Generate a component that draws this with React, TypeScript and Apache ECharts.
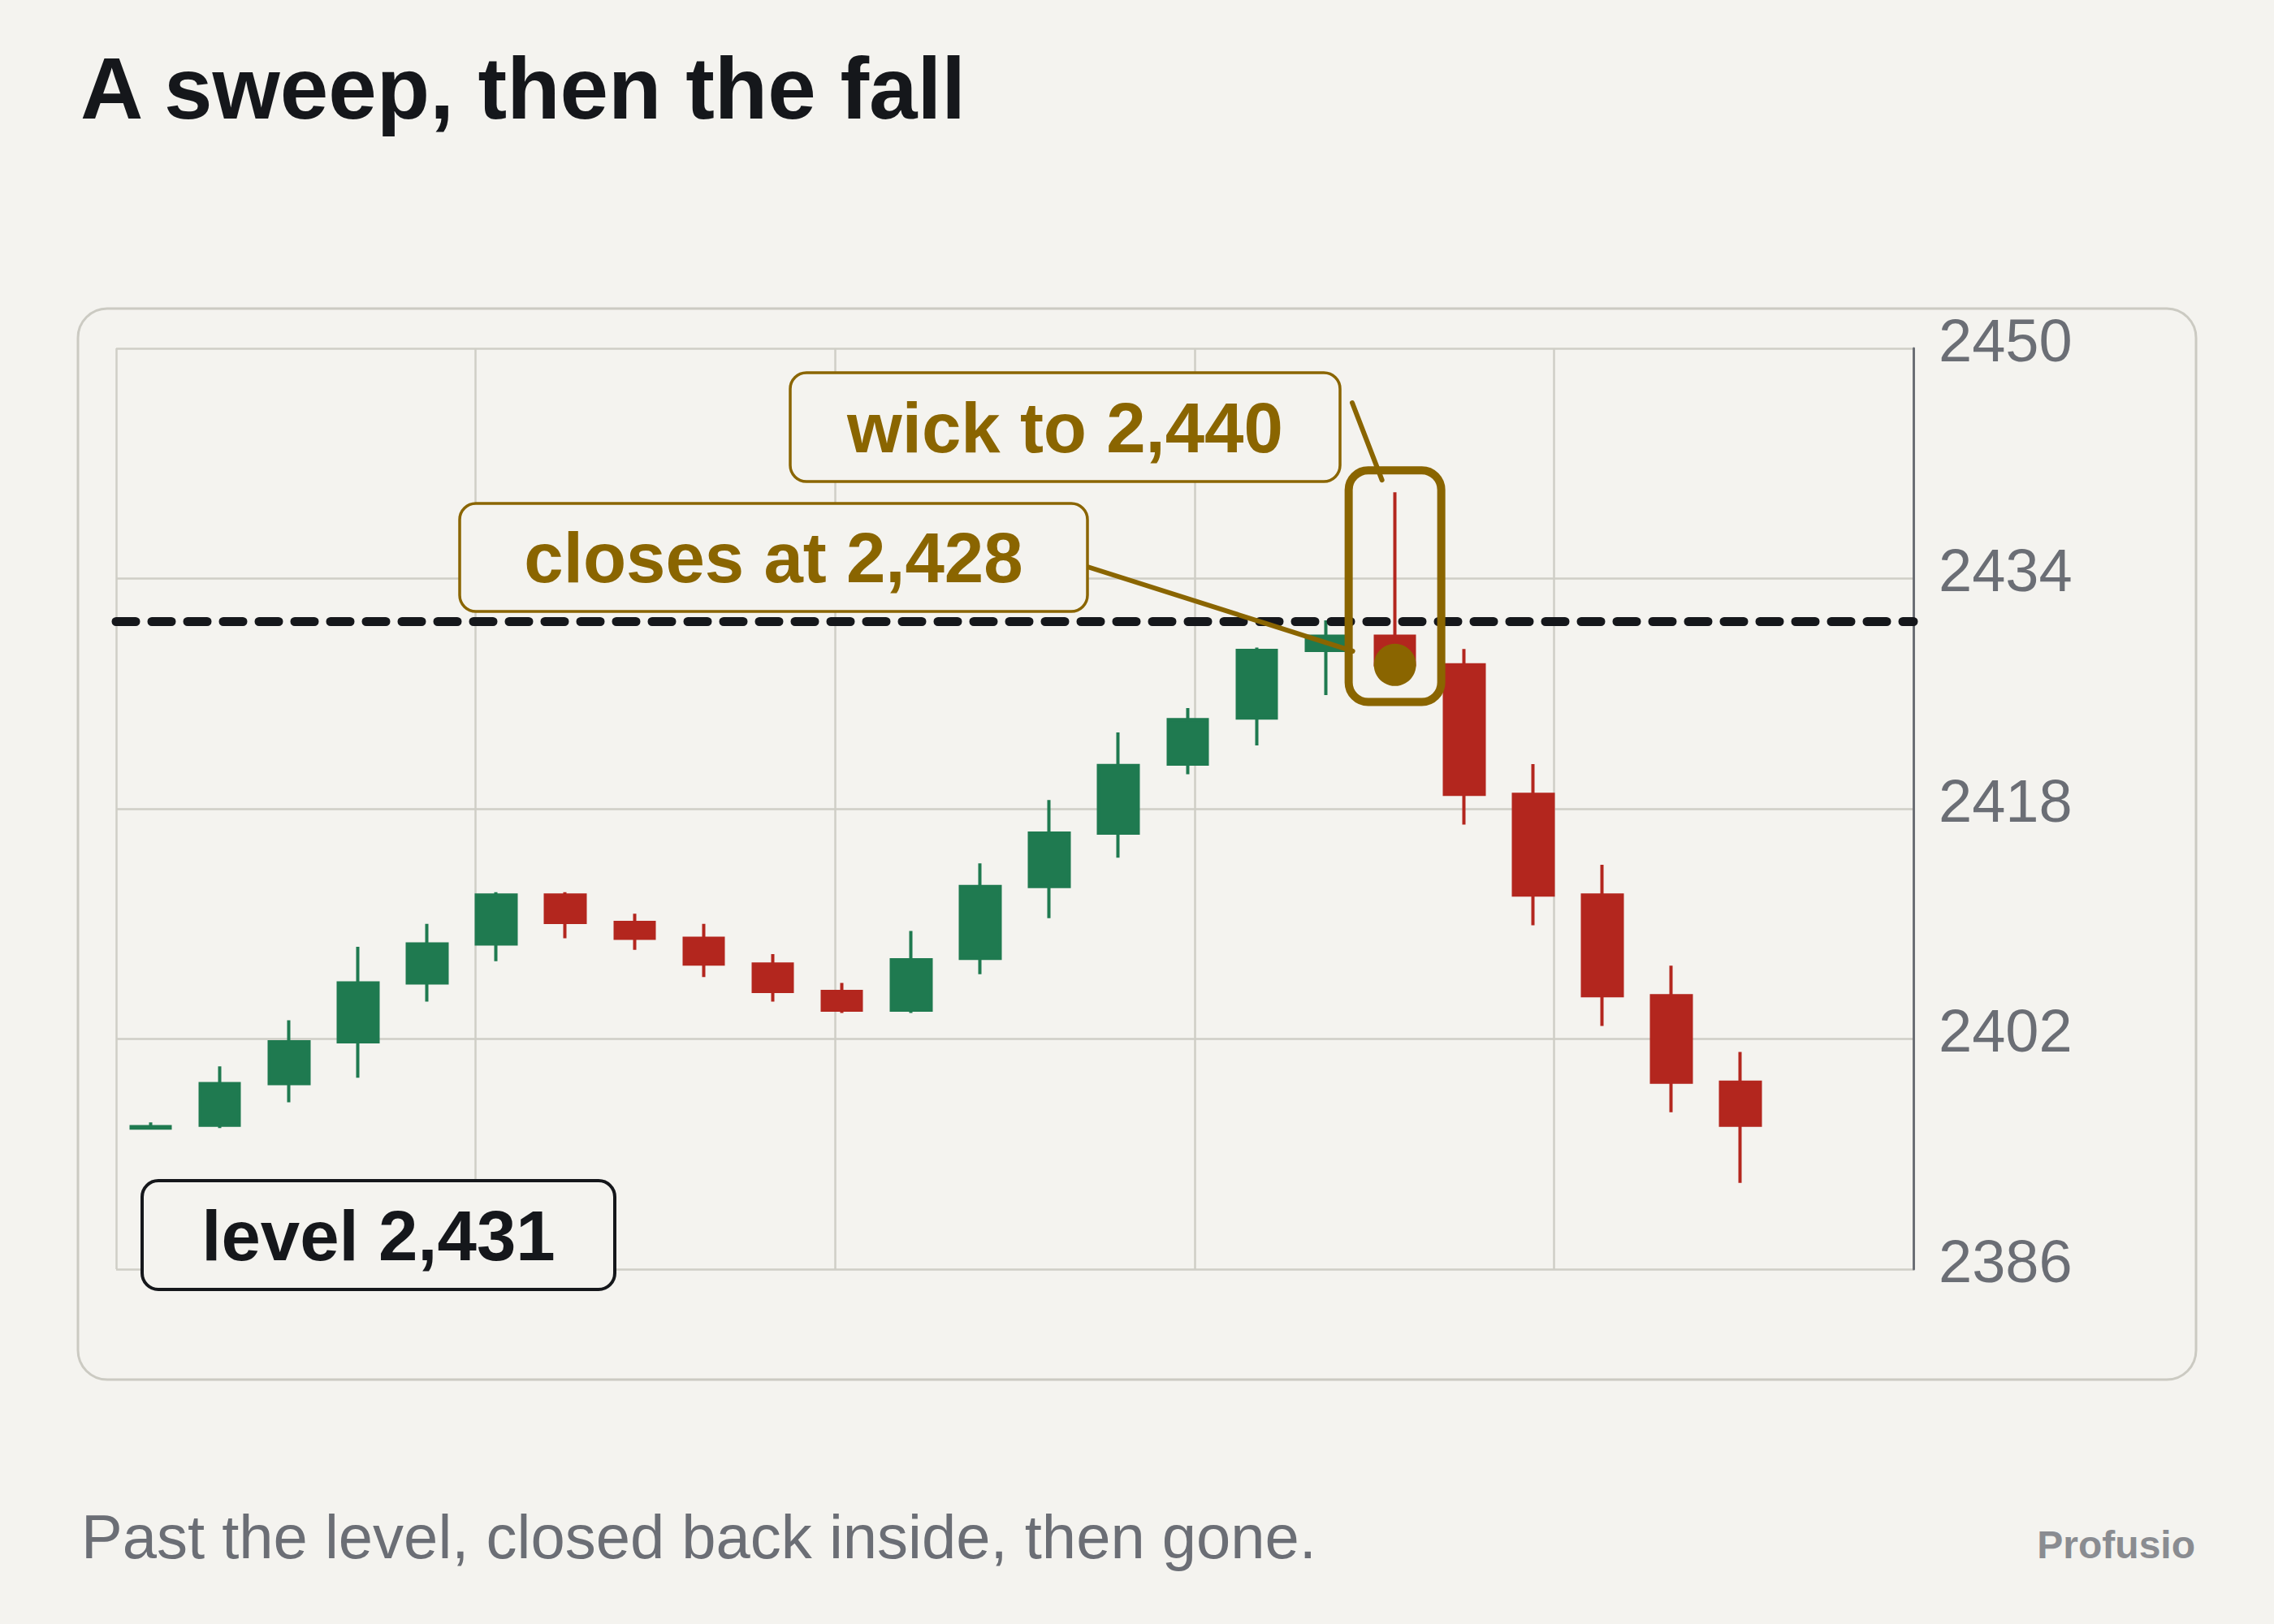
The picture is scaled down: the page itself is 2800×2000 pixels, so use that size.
import { useEffect, useRef } from "react";
import * as echarts from "echarts";

// ---- data ----
const categories = [
  "01", "02", "03", "04", "05", "06", "07", "08", "09", "10", "11", "12", "13",
  "14", "15", "16", "17", "18", "19", "20", "21", "22", "23", "24", "25", "26",
];
const opens = [
  2395.8, 2396.0, 2398.9, 2401.8, 2405.9, 2408.6, 2412.0, 2410.1, 2409.0, 2407.2, 2405.3, 2404.0,
  2407.6, 2412.6, 2416.3, 2421.1, 2424.3, 2429.0, 2430.0, 2428.0, 2419.0, 2412.0, 2405.0, 2399.0,
];
const closes = [
  2395.9, 2398.9, 2401.8, 2405.9, 2408.6, 2412.0, 2410.1, 2409.0, 2407.2, 2405.3, 2404.0, 2407.5,
  2412.6, 2416.3, 2421.0, 2424.2, 2429.0, 2430.0, 2428.0, 2419.0, 2412.0, 2405.0, 2399.0, 2396.0,
];
const lows = [
  2395.8, 2395.8, 2397.6, 2399.3, 2404.6, 2407.4, 2409.0, 2408.2, 2406.3, 2404.6, 2403.8, 2403.8,
  2406.5, 2410.4, 2414.6, 2420.4, 2422.4, 2425.9, 2427.4, 2416.9, 2409.9, 2402.9, 2396.9, 2392.0,
];
const highs = [
  2396.2, 2400.1, 2403.3, 2408.4, 2410.0, 2412.2, 2412.2, 2410.7, 2410.0, 2407.9, 2405.9, 2409.5,
  2414.2, 2418.6, 2423.3, 2425.0, 2429.2, 2431.1, 2440.0, 2429.1, 2421.1, 2414.1, 2407.1, 2401.1,
];
const yTicks = [2386, 2402, 2418, 2434, 2450];
const LEVEL = 2431;
const SWEEP_INDEX = 18;

const TITLE = "A sweep, then the fall";
const SUBTITLE = "Past the level, closed back inside, then gone.";
const BRAND = "Profusio";
const LEVEL_LABEL = "level 2,431";
const CLOSE_LABEL = "closes at 2,428";
const WICK_LABEL = "wick to 2,440";

// ---- style ----
const BG = "#f4f3ef";
const INK = "#15171b";
const GREY = "#6b6e75";
const GRID = "#cfcec6";
const CARD = "#cbcac2";
const GREEN = "#1f7a50";
const RED = "#b3261e";
const GOLD = "#8a6500";
const FONT = '"Liberation Sans", Arial, Helvetica, sans-serif';

export default function App() {
  const ref = useRef<HTMLDivElement>(null);

  useEffect(() => {
    if (!ref.current) return;
    const chart = echarts.init(ref.current, null, { renderer: "svg" });

    const candleData = opens.map((o, i) => [o, closes[i], lows[i], highs[i]]);

    const option: any = {
      animation: false,
      backgroundColor: BG,
      grid: { left: 143, top: 429, width: 2213, height: 1134, containLabel: false },
      xAxis: [
        {
          type: "category",
          data: categories,
          boundaryGap: true,
          axisLine: { show: false },
          axisTick: { show: false },
          axisLabel: { show: false },
          splitLine: { show: false },
        },
        {
          type: "value",
          min: 0,
          max: 5,
          interval: 1,
          position: "bottom",
          axisLine: { show: false, onZero: false },
          axisTick: { show: false },
          axisLabel: { show: false },
          splitLine: { show: true, lineStyle: { color: GRID, width: 2.5 } },
        },
      ],
      yAxis: {
        type: "value",
        position: "right",
        min: yTicks[0],
        max: yTicks[yTicks.length - 1],
        interval: yTicks[1] - yTicks[0],
        axisLine: { show: true, onZero: false, lineStyle: { color: GREY, width: 3 } },
        axisTick: { show: false },
        axisLabel: {
          color: GREY,
          fontSize: 74,
          fontFamily: FONT,
          margin: 31,
          verticalAlign: "bottom",
          lineHeight: 20,
          formatter: (v: number) => String(v),
        },
        splitLine: { show: true, lineStyle: { color: GRID, width: 2.5 } },
      },
      series: [
        {
          type: "candlestick",
          xAxisIndex: 0,
          data: candleData,
          barWidth: 49,
          itemStyle: {
            color: GREEN,
            color0: RED,
            borderColor: GREEN,
            borderColor0: RED,
            borderWidth: 4,
          },
          markLine: {
            silent: true,
            symbol: "none",
            label: { show: false },
            lineStyle: { color: INK, width: 11, type: [24, 20], cap: "round", opacity: 1 },
            data: [{ yAxis: LEVEL }],
            z: 5,
          },
          z: 3,
        },
        {
          type: "scatter",
          xAxisIndex: 0,
          data: [[SWEEP_INDEX, closes[SWEEP_INDEX]]],
          symbol: "circle",
          symbolSize: 52,
          itemStyle: { color: GOLD, opacity: 1 },
          silent: true,
          z: 20,
        },
      ],
    };

    chart.setOption(option);

    const px = (idx: number, v: number) =>
      chart.convertToPixel({ xAxisIndex: 0, yAxisIndex: 0 }, [idx, v]) as number[];
    const [cx, yHigh] = px(SWEEP_INDEX, highs[SWEEP_INDEX]);
    const [, yLow] = px(SWEEP_INDEX, lows[SWEEP_INDEX]);
    const [, yClose] = px(SWEEP_INDEX, closes[SWEEP_INDEX]);

    const hlHalf = 57;
    const hlTop = yHigh - 27;
    const hlBottom = yLow + 35;
    const hlLeft = cx - hlHalf;

    const textStyle = (text: string, x: number, y: number, size: number, weight: string, color: string, align = "left") => ({
      text,
      x,
      y,
      fill: color,
      font: `${weight} ${size}px ${FONT}`,
      align,
      verticalAlign: "middle",
      textAlign: align,
      textVerticalAlign: "middle",
    });

    const box = (x: number, y: number, w: number, h: number, stroke: string, lw: number, label: string, color: string) => [
      {
        type: "rect",
        z: 100,
        shape: { x, y, width: w, height: h, r: 20 },
        style: { fill: BG, stroke, lineWidth: lw },
      },
      {
        type: "text",
        z: 101,
        style: textStyle(label, x + w / 2, y + h / 2, 87, "bold", color, "center"),
      },
    ];

    const graphic: any[] = [
      // card frame
      {
        type: "rect",
        z: -10,
        silent: true,
        shape: { x: 96, y: 380, width: 2608, height: 1319, r: 36 },
        style: { fill: "none", stroke: CARD, lineWidth: 3 },
      },
      { type: "text", z: 10, style: textStyle(TITLE, 99, 109, 107, "bold", INK) },
      { type: "text", z: 10, style: textStyle(SUBTITLE, 100, 1892, 76, "normal", GREY) },
      { type: "text", z: 10, style: textStyle(BRAND, 2703, 1902, 48, "bold", "#8a8c91", "right") },
      // highlight frame around the sweep candle
      {
        type: "rect",
        z: 90,
        shape: { x: hlLeft, y: hlTop, width: hlHalf * 2, height: hlBottom - hlTop, r: 24 },
        style: { fill: "none", stroke: GOLD, lineWidth: 10 },
      },
      // leaders
      {
        type: "line",
        z: 95,
        shape: { x1: 1339, y1: 698, x2: hlLeft + 5, y2: yClose - 17 },
        style: { stroke: GOLD, lineWidth: 6, lineCap: "round" },
      },
      {
        type: "line",
        z: 95,
        shape: { x1: 1665, y1: 496, x2: cx - 16, y2: hlTop + 12 },
        style: { stroke: GOLD, lineWidth: 6, lineCap: "round" },
      },
      ...box(175, 1454, 582, 134, INK, 4, LEVEL_LABEL, INK),
      ...box(566, 620, 773, 133, GOLD, 3.5, CLOSE_LABEL, GOLD),
      ...box(973, 459, 677, 134, GOLD, 3.5, WICK_LABEL, GOLD),
    ];

    chart.setOption({ graphic });

    return () => chart.dispose();
  }, []);

  return (
    <div
      ref={ref}
      style={{ position: "absolute", left: 0, top: 0, width: 2800, height: 2000, background: BG }}
    />
  );
}
